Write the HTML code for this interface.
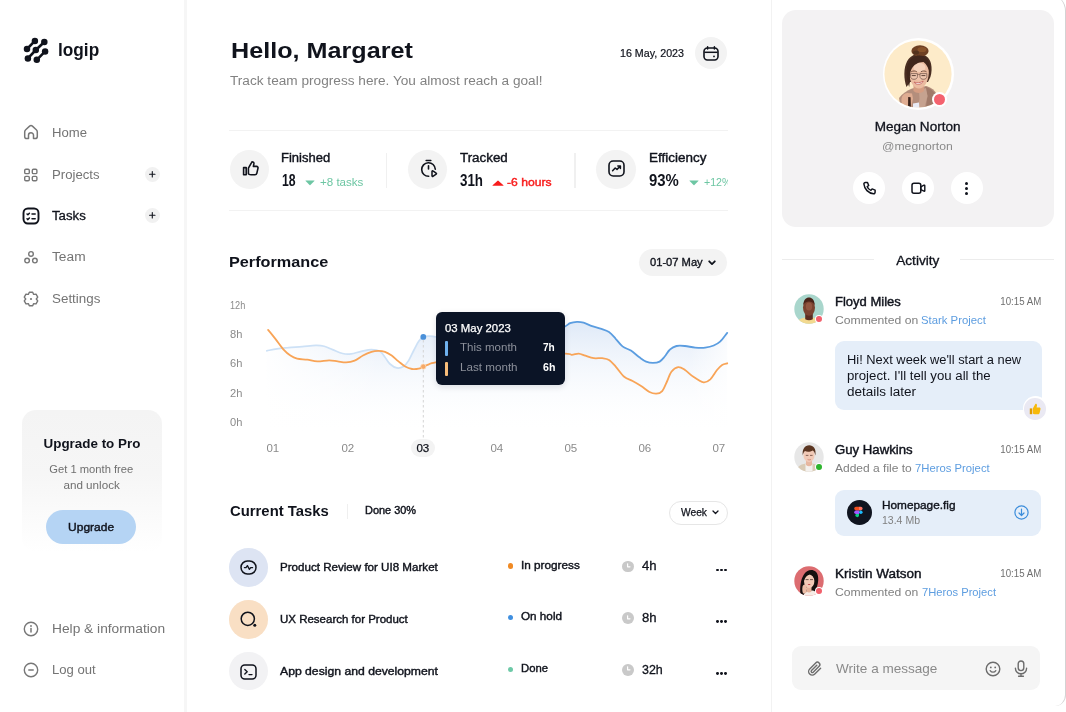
<!DOCTYPE html>
<html lang="en"><head><meta charset="utf-8"><title>logip – Dashboard</title>
<style>

html,body{margin:0;padding:0;background:#fff}
body{width:1066px;height:712px;position:relative;overflow:hidden;font-family:'Liberation Sans',sans-serif}
.t{position:absolute;white-space:pre;line-height:1;display:block;margin:0}
.a{position:absolute;display:block}
svg{position:absolute;overflow:visible}
.c{position:absolute;border-radius:50%}

</style></head>
<body>
<nav class="a" style="left:0;top:0;width:184px;height:712px;border-right:0"><div class="a" style="left:184.2px;top:0px;width:2.6px;height:712px;background:#f6f6f6"></div><svg style="left:0px;top:0px" width="60" height="70" viewBox="0 0 60 70" fill="none" ><line x1="34.9" y1="40.9" x2="27.0" y2="49.0" stroke="#10131c" stroke-width="2.6" stroke-linecap="round"/><line x1="44.3" y1="42.0" x2="35.8" y2="50.0" stroke="#10131c" stroke-width="2.6" stroke-linecap="round"/><line x1="35.8" y1="50.0" x2="27.9" y2="58.4" stroke="#10131c" stroke-width="2.6" stroke-linecap="round"/><line x1="45.1" y1="51.4" x2="36.8" y2="59.8" stroke="#10131c" stroke-width="2.6" stroke-linecap="round"/><circle cx="34.9" cy="40.9" r="3.25" fill="#10131c"/><circle cx="44.3" cy="42.0" r="3.25" fill="#10131c"/><circle cx="27.0" cy="49.0" r="3.25" fill="#10131c"/><circle cx="35.8" cy="50.0" r="3.25" fill="#10131c"/><circle cx="45.1" cy="51.4" r="3.25" fill="#10131c"/><circle cx="27.9" cy="58.4" r="3.25" fill="#10131c"/><circle cx="36.8" cy="59.8" r="3.25" fill="#10131c"/></svg><span class="t " style="left:58.00px;top:41px;font-size:18.8px;color:#10131c;transform:scaleX(0.9184);transform-origin:0 50%;font-weight:700;">logip</span><svg style="left:22.8px;top:124.4px" width="16" height="16" viewBox="0 0 16 16" fill="none" ><path d="M6.600 2.100Q8 .9 9.400 2.100L13.300 5.700Q14.300 6.700 14.300 8.100V12.400Q14.300 14.600 12.100 14.600H10.500V11.300a2.500 2.500 0 0 0-5 0V14.600H3.900Q1.700 14.600 1.700 12.400V8.100Q1.700 6.700 2.700 5.700Z" stroke="#777" stroke-width="1.500" stroke-linejoin="round"/></svg><span class="t " style="left:52.00px;top:127px;font-size:12px;color:#747474;transform:scaleX(1.0932);transform-origin:0 50%;">Home</span><svg style="left:23px;top:166.5px" width="16" height="16" viewBox="0 0 16 16" fill="none" ><rect x="1.7" y="2.2" width="4.600" height="4.400" rx="1.200" stroke="#777" stroke-width="1.400"/><rect x="1.7" y="9.4" width="4.600" height="4.400" rx="1.200" stroke="#777" stroke-width="1.400"/><rect x="9.3" y="2.2" width="4.600" height="4.400" rx="1.200" stroke="#777" stroke-width="1.400"/><rect x="9.3" y="9.4" width="4.600" height="4.400" rx="1.200" stroke="#777" stroke-width="1.400"/></svg><span class="t " style="left:52.00px;top:169px;font-size:12px;color:#747474;transform:scaleX(1.0955);transform-origin:0 50%;">Projects</span><svg style="left:22px;top:206.6px" width="18" height="18" viewBox="0 0 18 18" fill="none" ><rect x="1.500" y="1.500" width="15" height="15" rx="4.400" stroke="#10131c" stroke-width="1.900"/><path d="M5 7l.9.800 1.500-1.600M10 7h3.200M5 11.800l.9.800 1.500-1.600M10 11.800h3.200" stroke="#10131c" stroke-width="1.500" stroke-linecap="round" stroke-linejoin="round"/></svg><span class="t " style="left:52.00px;top:210px;font-size:12px;color:#10131c;transform:scaleX(1.1014);transform-origin:0 50%;-webkit-text-stroke:0.3px #10131c;">Tasks</span><svg style="left:23px;top:249.5px" width="16" height="16" viewBox="0 0 16 16" fill="none" ><circle cx="8" cy="3.9" r="2.3" stroke="#777" stroke-width="1.4"/><circle cx="4.1" cy="10.6" r="2.3" stroke="#777" stroke-width="1.4"/><circle cx="11.9" cy="10.6" r="2.3" stroke="#777" stroke-width="1.4"/></svg><span class="t " style="left:52.00px;top:251px;font-size:12px;color:#747474;transform:scaleX(1.1450);transform-origin:0 50%;">Team</span><svg style="left:23px;top:291px" width="16" height="16" viewBox="0 0 16 16" fill="none" ><path d="M6.31 1.21L9.69 1.21L10.65 3.41L13.04 3.14L14.73 6.07L13.30 8.00L14.73 9.93L13.04 12.86L10.65 12.59L9.69 14.79L6.31 14.79L5.35 12.59L2.96 12.86L1.27 9.93L2.70 8.00L1.27 6.07L2.96 3.14L5.35 3.41Z" stroke="#777" stroke-width="1.4" stroke-linejoin="round"/><circle cx="8" cy="8" r="1.1" fill="#777"/></svg><span class="t " style="left:52.00px;top:293px;font-size:12px;color:#747474;transform:scaleX(1.1163);transform-origin:0 50%;">Settings</span><div class="c" style="left:144.70px;top:166.60px;width:15.2px;height:15.2px;background:#f1f1f1;"></div><svg style="left:149px;top:170.89999999999998px" width="6.6" height="6.6" viewBox="0 0 6.6 6.6" fill="none" ><path d="M3.3 .6v5.4M.6 3.3h5.4" stroke="#10131c" stroke-width="1.1" stroke-linecap="round"/></svg><div class="c" style="left:144.70px;top:208.00px;width:15.2px;height:15.2px;background:#f1f1f1;"></div><svg style="left:149px;top:212.29999999999998px" width="6.6" height="6.6" viewBox="0 0 6.6 6.6" fill="none" ><path d="M3.3 .6v5.4M.6 3.3h5.4" stroke="#10131c" stroke-width="1.1" stroke-linecap="round"/></svg><section class="a" style="left:22px;top:410px;width:140px;height:142px;border-radius:14px;background:linear-gradient(180deg,#f4f4f4 0%,#f6f6f6 45%,#ffffff 100%)"></section><span class="t " style="left:44.55px;top:437px;font-size:13px;color:#10131c;transform:scaleX(1.0308);transform-origin:50% 50%;font-weight:700;">Upgrade to Pro</span><span class="t " style="left:50.03px;top:464px;font-size:11px;color:#6f6f6f;transform:scaleX(1.0176);transform-origin:50% 50%;">Get 1 month free</span><span class="t " style="left:64.79px;top:480px;font-size:11px;color:#6f6f6f;transform:scaleX(1.0598);transform-origin:50% 50%;">and unlock</span><div class="a" style="left:46.3px;top:510px;width:90.2px;height:34.4px;border-radius:18px;background:#b5d4f4"></div><span class="t " style="left:70.20px;top:522px;font-size:11px;color:#10131c;transform:scaleX(1.0900);transform-origin:50% 50%;-webkit-text-stroke:0.4px #10131c;">Upgrade</span><svg style="left:22.6px;top:620.8px" width="16" height="16" viewBox="0 0 16 16" fill="none" ><circle cx="8" cy="8" r="6.7" stroke="#777" stroke-width="1.4"/><path d="M8 7.4v3.6" stroke="#777" stroke-width="1.5" stroke-linecap="round"/><circle cx="8" cy="5" r=".9" fill="#777"/></svg><span class="t " style="left:52.00px;top:623px;font-size:12px;color:#747474;transform:scaleX(1.1457);transform-origin:0 50%;">Help &amp; information</span><svg style="left:22.6px;top:662px" width="16" height="16" viewBox="0 0 16 16" fill="none" ><circle cx="8" cy="8" r="6.7" stroke="#777" stroke-width="1.4"/><path d="M5.8 8h4.4" stroke="#777" stroke-width="1.5" stroke-linecap="round"/></svg><span class="t " style="left:52.00px;top:664px;font-size:12px;color:#747474;transform:scaleX(1.0912);transform-origin:0 50%;">Log out</span></nav><main class="a" style="left:185px;top:0;width:585px;height:712px"></main><span class="t " style="left:230.60px;top:39px;font-size:22.8px;color:#10131c;transform:scaleX(1.1039);transform-origin:0 50%;font-weight:700;">Hello, Margaret</span><span class="t " style="left:229.80px;top:75px;font-size:12px;color:#828282;transform:scaleX(1.1362);transform-origin:0 50%;">Track team progress here. You almost reach a goal!</span><span class="t " style="left:620.40px;top:48px;font-size:10.5px;color:#10131c;transform:scaleX(1.0181);transform-origin:0 50%;-webkit-text-stroke:0.2px #10131c;">16 May, 2023</span><div class="c" style="left:694.50px;top:37.40px;width:32px;height:32px;background:#f3f3f3;"></div><svg style="left:702.5px;top:46px" width="16" height="15" viewBox="0 0 16 15" fill="none" ><rect x="1" y="2" width="14" height="12" rx="3.4" stroke="#10131c" stroke-width="1.6"/><path d="M1.4 6.3h13.2" stroke="#10131c" stroke-width="1.5"/><path d="M4.6 .8v2.2M11.4 .8v2.2" stroke="#10131c" stroke-width="1.5" stroke-linecap="round"/><circle cx="11" cy="10.4" r=".9" fill="#10131c"/></svg><div class="a" style="left:228.5px;top:129.6px;width:499.5px;height:1.3px;background:#f2f2f2"></div><div class="a" style="left:228.5px;top:209.6px;width:499.5px;height:1.3px;background:#f2f2f2"></div><div class="c" style="left:229.70px;top:149.60px;width:39.2px;height:39.2px;background:#f3f3f3;"></div><svg style="left:241.5px;top:160px" width="17" height="17" viewBox="0 0 17 17" fill="none" ><path d="M1.6 7.6h2.6v7.2H1.6z" stroke="#10131c" stroke-width="1.6" stroke-linejoin="round"/><path d="M6.4 8.2l3-5.4c.3-.6 1-1 1.6-.7.7.3 1 .9.9 1.600L11.400 6.400h3.200c1 0 1.600.9 1.400 1.800l-1.200 5.200c-.2.800-.9 1.400-1.800 1.400H9.200c-1 0-2-.4-2.800-1Z" stroke="#10131c" stroke-width="1.6" stroke-linejoin="round"/></svg><span class="t " style="left:281.40px;top:152px;font-size:12px;color:#10131c;transform:scaleX(1.0847);transform-origin:0 50%;-webkit-text-stroke:0.38px #10131c;">Finished</span><span class="t " style="left:281.50px;top:173px;font-size:16px;color:#10131c;transform:scaleX(0.7642);transform-origin:0 50%;font-weight:700;">18</span><svg style="left:305.2px;top:180.3px" width="10" height="5.6" viewBox="0 0 10 5.6" fill="none" ><path d="M.8 .5h8.400q.6 0 .2.500L5.400 5.100q-.4.400-.8 0L.6 1q-.4-.5.200-.5Z" fill="#6dc6a3"/></svg><span class="t " style="left:320.00px;top:177px;font-size:10.5px;color:#6dc6a3;transform:scaleX(1.1013);transform-origin:0 50%;">+8 tasks</span><div class="a" style="left:385.8px;top:152.8px;width:1.2px;height:35px;background:#f0f0f0"></div><div class="c" style="left:408.00px;top:149.60px;width:39.2px;height:39.2px;background:#f3f3f3;"></div><svg style="left:419.5px;top:159px" width="18" height="19" viewBox="0 0 18 19" fill="none" ><path d="M6.2 1.500h4.600" stroke="#10131c" stroke-width="1.6" stroke-linecap="round"/><path d="M15.300 10.200A6.800 6.800 0 1 0 8.700 17.300" stroke="#10131c" stroke-width="1.6" stroke-linecap="round"/><path d="M8.500 6.800v3.200" stroke="#10131c" stroke-width="1.6" stroke-linecap="round"/><path d="M12 12.400v4.400c0 .5.500.8.900.5l3.300-2.200c.4-.2.400-.8 0-1l-3.300-2.200c-.4-.3-.9 0-.9.500Z" stroke="#10131c" stroke-width="1.500" stroke-linejoin="round"/></svg><span class="t " style="left:460.20px;top:152px;font-size:12px;color:#10131c;transform:scaleX(1.1141);transform-origin:0 50%;-webkit-text-stroke:0.38px #10131c;">Tracked</span><span class="t " style="left:460.20px;top:173px;font-size:16px;color:#10131c;transform:scaleX(0.8340);transform-origin:0 50%;font-weight:700;">31h</span><svg style="left:491.8px;top:180px" width="12" height="6" viewBox="0 0 12 6" fill="none" ><path d="M.8 5.700h10.400q.6 0 .2-.5L6.400.7q-.4-.4-.8 0L.6 5.200q-.4.500.2.500Z" fill="#f81c1c"/></svg><span class="t " style="left:507.30px;top:177px;font-size:10.5px;color:#f81c1c;transform:scaleX(1.1549);transform-origin:0 50%;-webkit-text-stroke:0.4px #f81c1c;">-6 hours</span><div class="a" style="left:574.4px;top:152.8px;width:1.2px;height:35px;background:#f0f0f0"></div><div class="c" style="left:596.40px;top:149.60px;width:39.2px;height:39.2px;background:#f3f3f3;"></div><svg style="left:607.5px;top:160px" width="17" height="17" viewBox="0 0 17 17" fill="none" ><rect x="1" y="1" width="15" height="15" rx="4.200" stroke="#10131c" stroke-width="1.600"/><path d="M4.600 10.800l2.600-2.800 1.800 1.400 3.200-3.200M9.800 6h2.600v2.600" stroke="#10131c" stroke-width="1.500" stroke-linecap="round" stroke-linejoin="round"/></svg><span class="t " style="left:648.50px;top:152px;font-size:12px;color:#10131c;transform:scaleX(1.1224);transform-origin:0 50%;-webkit-text-stroke:0.38px #10131c;">Efficiency</span><span class="t " style="left:648.80px;top:173px;font-size:16px;color:#10131c;transform:scaleX(0.9303);transform-origin:0 50%;font-weight:700;">93%</span><svg style="left:688.6px;top:180.3px" width="10" height="5.6" viewBox="0 0 10 5.6" fill="none" ><path d="M.8 .5h8.400q.6 0 .2.500L5.400 5.100q-.4.400-.8 0L.6 1q-.4-.5.200-.5Z" fill="#6dc6a3"/></svg><div class="a" style="left:700px;top:170px;width:28px;height:24px;overflow:hidden"><span class="t " style="left:4.20px;top:7px;font-size:10.5px;color:#6dc6a3;transform:scaleX(1.0127);transform-origin:0 50%;">+12%</span></div><section><span class="t " style="left:229.40px;top:254px;font-size:15.5px;color:#10131c;transform:scaleX(1.0468);transform-origin:0 50%;font-weight:700;">Performance</span><div class="a" style="left:638.8px;top:249.3px;width:88.7px;height:26.4px;border-radius:14px;background:#f3f3f3"></div><span class="t " style="left:650.10px;top:257px;font-size:11px;color:#10131c;transform:scaleX(1.0138);transform-origin:0 50%;-webkit-text-stroke:0.35px #10131c;">01-07 May</span><svg style="left:708.4px;top:259.7px" width="8" height="6" viewBox="0 0 8 6" fill="none" ><path d="M1.200 1.300l2.800 2.800 2.800-2.800" stroke="#10131c" stroke-width="1.800" stroke-linecap="round" stroke-linejoin="round"/></svg><span class="t " style="left:229.80px;top:300px;font-size:10.5px;color:#8b8b8b;transform:scaleX(0.8727);transform-origin:0 50%;">12h</span><span class="t " style="left:229.80px;top:329px;font-size:10.5px;color:#8b8b8b;transform:scaleX(1.0610);transform-origin:0 50%;">8h</span><span class="t " style="left:229.80px;top:358px;font-size:10.5px;color:#8b8b8b;transform:scaleX(1.0610);transform-origin:0 50%;">6h</span><span class="t " style="left:229.80px;top:388px;font-size:10.5px;color:#8b8b8b;transform:scaleX(1.0610);transform-origin:0 50%;">2h</span><span class="t " style="left:229.80px;top:417px;font-size:10.5px;color:#8b8b8b;transform:scaleX(1.0610);transform-origin:0 50%;">0h</span><span class="t " style="left:266.76px;top:443px;font-size:10.5px;color:#8b8b8b;transform:scaleX(1.1000);transform-origin:50% 50%;">01</span><span class="t " style="left:342.06px;top:443px;font-size:10.5px;color:#8b8b8b;transform:scaleX(1.1000);transform-origin:50% 50%;">02</span><span class="t " style="left:491.36px;top:443px;font-size:10.5px;color:#8b8b8b;transform:scaleX(1.1000);transform-origin:50% 50%;">04</span><span class="t " style="left:565.46px;top:443px;font-size:10.5px;color:#8b8b8b;transform:scaleX(1.1000);transform-origin:50% 50%;">05</span><span class="t " style="left:639.26px;top:443px;font-size:10.5px;color:#8b8b8b;transform:scaleX(1.1000);transform-origin:50% 50%;">06</span><span class="t " style="left:713.26px;top:443px;font-size:10.5px;color:#8b8b8b;transform:scaleX(1.1000);transform-origin:50% 50%;">07</span><div class="a" style="left:411.3px;top:439.2px;width:24px;height:18.2px;border-radius:9px;background:#f3f3f3"></div><span class="t " style="left:417.46px;top:443px;font-size:10.5px;color:#10131c;transform:scaleX(1.1000);transform-origin:50% 50%;-webkit-text-stroke:0.25px #10131c;">03</span><svg style="left:0px;top:0px" width="1066" height="712" viewBox="0 0 1066 712" fill="none" ><defs><linearGradient id="ga" x1="0" y1="318" x2="0" y2="434" gradientUnits="userSpaceOnUse"><stop offset="0" stop-color="#dde8f7"/><stop offset="1" stop-color="#ffffff" stop-opacity="0"/></linearGradient><linearGradient id="gh" x1="266" y1="0" x2="380" y2="0" gradientUnits="userSpaceOnUse"><stop offset="0" stop-color="#fff" stop-opacity=".95"/><stop offset="1" stop-color="#fff" stop-opacity="0"/></linearGradient><linearGradient id="gr" x1="690" y1="0" x2="728" y2="0" gradientUnits="userSpaceOnUse"><stop offset="0" stop-color="#fff" stop-opacity="0"/><stop offset="1" stop-color="#fff" stop-opacity=".8"/></linearGradient></defs><path d="M266.8 350.8C268.5 350.5 273.2 349.3 276.9 348.8C280.5 348.3 284.5 348.0 288.7 347.6C292.9 347.2 297.7 347.1 302.2 346.7C306.7 346.3 312.0 345.5 315.7 345.4C319.4 345.3 321.4 345.5 324.2 346.2C327.0 346.9 329.5 348.4 332.6 349.6C335.7 350.8 339.6 352.8 342.7 353.5C345.8 354.2 348.1 354.2 351.2 353.8C354.3 353.4 357.9 352.0 361.3 351.3C364.7 350.6 368.4 349.6 371.5 349.6C374.6 349.6 377.6 350.0 379.9 351.3C382.1 352.6 383.3 355.1 385.0 357.2C386.7 359.3 388.0 362.2 390.0 364.0C392.0 365.8 394.6 367.5 396.8 367.9C399.1 368.3 401.5 367.7 403.5 366.5C405.5 365.3 406.9 363.3 408.6 360.6C410.3 357.9 412.0 353.7 413.7 350.5C415.4 347.3 417.1 343.4 418.7 341.2C420.3 338.9 421.6 337.9 423.3 337.0C425.0 336.1 427.1 336.2 428.9 336.1C430.7 336.0 432.0 336.3 433.9 336.6C435.8 336.9 434.0 337.4 440.0 338.0C446.0 338.6 456.7 340.0 470.0 340.0C483.3 340.0 506.7 339.3 520.0 338.0C533.3 336.7 542.6 333.9 550.0 332.0C557.4 330.1 560.9 328.4 564.2 326.9C567.6 325.4 568.0 324.0 570.1 323.2C572.2 322.4 574.6 322.0 576.9 321.9C579.1 321.8 581.1 322.0 583.6 322.7C586.1 323.4 589.3 325.1 592.1 326.1C594.9 327.1 597.7 327.6 600.5 328.6C603.3 329.6 606.5 330.3 609.0 332.0C611.5 333.7 613.5 336.4 615.7 338.8C618.0 341.2 620.0 344.4 622.5 346.4C625.0 348.4 628.1 348.8 630.9 350.6C633.7 352.4 636.9 355.5 639.4 357.3C641.9 359.1 643.9 360.7 646.1 361.6C648.4 362.5 650.6 362.9 652.9 362.9C655.1 362.9 657.6 362.7 659.6 361.6C661.6 360.5 663.0 358.5 664.7 356.5C666.4 354.5 667.8 351.4 669.8 349.7C671.8 347.9 674.0 346.6 676.5 346.0C679.0 345.4 681.9 345.7 685.0 346.0C688.1 346.3 691.7 347.3 695.1 347.6C698.5 347.9 702.1 348.1 705.2 347.7C708.3 347.3 711.2 346.6 713.7 345.5C716.2 344.4 718.6 342.9 720.4 341.3C722.2 339.8 723.5 337.6 724.6 336.2C725.7 334.8 726.8 333.4 727.2 332.9L727.2 436L266.8 436Z" fill="url(#ga)"/><rect x="262" y="315" width="120" height="120" fill="url(#gh)"/><rect x="690" y="315" width="40" height="120" fill="url(#gr)"/><path d="M266.8 350.8C268.5 350.5 273.2 349.3 276.9 348.8C280.5 348.3 284.5 348.0 288.7 347.6C292.9 347.2 297.7 347.1 302.2 346.7C306.7 346.3 312.0 345.5 315.7 345.4C319.4 345.3 321.4 345.5 324.2 346.2C327.0 346.9 329.5 348.4 332.6 349.6C335.7 350.8 339.6 352.8 342.7 353.5C345.8 354.2 348.1 354.2 351.2 353.8C354.3 353.4 357.9 352.0 361.3 351.3C364.7 350.6 368.4 349.6 371.5 349.6C374.6 349.6 377.6 350.0 379.9 351.3C382.1 352.6 383.3 355.1 385.0 357.2C386.7 359.3 388.0 362.2 390.0 364.0C392.0 365.8 394.6 367.5 396.8 367.9C399.1 368.3 401.5 367.7 403.5 366.5C405.5 365.3 406.9 363.3 408.6 360.6C410.3 357.9 412.0 353.7 413.7 350.5C415.4 347.3 417.1 343.4 418.7 341.2C420.3 338.9 421.6 337.9 423.3 337.0C425.0 336.1 427.1 336.2 428.9 336.1C430.7 336.0 432.0 336.3 433.9 336.6C435.8 336.9 439.0 337.8 440.0 338.0" stroke="#cde1f6" stroke-width="1.700" stroke-linecap="round"/><path d="M440.0 338.0C445.0 338.3 456.7 340.0 470.0 340.0C483.3 340.0 506.7 339.3 520.0 338.0C533.3 336.7 542.6 333.9 550.0 332.0C557.4 330.1 560.9 328.4 564.2 326.9C567.6 325.4 568.0 324.0 570.1 323.2C572.2 322.4 574.6 322.0 576.9 321.9C579.1 321.8 581.1 322.0 583.6 322.7C586.1 323.4 589.3 325.1 592.1 326.1C594.9 327.1 597.7 327.6 600.5 328.6C603.3 329.6 606.5 330.3 609.0 332.0C611.5 333.7 613.5 336.4 615.7 338.8C618.0 341.2 620.0 344.4 622.5 346.4C625.0 348.4 628.1 348.8 630.9 350.6C633.7 352.4 636.9 355.5 639.4 357.3C641.9 359.1 643.9 360.7 646.1 361.6C648.4 362.5 650.6 362.9 652.9 362.9C655.1 362.9 657.6 362.7 659.6 361.6C661.6 360.5 663.0 358.5 664.7 356.5C666.4 354.5 667.8 351.4 669.8 349.7C671.8 347.9 674.0 346.6 676.5 346.0C679.0 345.4 681.9 345.7 685.0 346.0C688.1 346.3 691.7 347.3 695.1 347.6C698.5 347.9 702.1 348.1 705.2 347.7C708.3 347.3 711.2 346.6 713.7 345.5C716.2 344.4 718.6 342.9 720.4 341.3C722.2 339.8 723.5 337.6 724.6 336.2C725.7 334.8 726.8 333.4 727.2 332.9" stroke="#5b9de0" stroke-width="1.800" stroke-linecap="round"/><path d="M268.1 329.9C269.3 331.3 272.6 335.3 275.2 338.6C277.8 341.9 281.1 346.8 283.6 349.6C286.1 352.4 288.1 354.0 290.4 355.5C292.6 357.0 294.3 357.9 297.1 358.6C299.9 359.3 303.9 359.2 307.3 359.7C310.7 360.2 313.8 361.3 317.4 361.4C321.0 361.5 325.8 360.3 329.2 360.3C332.6 360.3 334.9 361.1 337.7 361.4C340.5 361.7 343.3 362.4 346.1 362.3C348.9 362.2 351.8 361.7 354.6 360.6C357.4 359.5 360.2 357.0 363.0 355.5C365.8 354.0 369.0 352.6 371.5 351.8C374.0 351.0 375.9 350.8 378.2 350.8C380.4 350.8 382.8 351.0 385.0 351.8C387.2 352.6 389.4 353.9 391.7 355.5C393.9 357.1 396.2 359.6 398.5 361.4C400.8 363.2 402.9 365.2 405.2 366.5C407.4 367.8 409.8 368.6 412.0 369.0C414.2 369.4 416.8 369.1 418.7 368.7C420.6 368.3 421.6 367.2 423.3 366.5C425.0 365.8 426.8 365.0 428.9 364.3C430.9 363.6 428.8 363.5 435.6 362.3C442.5 361.1 455.9 358.6 470.0 357.0C484.1 355.4 504.1 353.6 520.0 353.0C535.9 352.4 556.5 353.3 565.1 353.6C573.7 353.9 569.5 354.8 571.8 354.8C574.0 354.8 576.4 353.5 578.6 353.6C580.9 353.8 582.8 354.9 585.3 355.7C587.8 356.5 591.0 357.8 593.8 358.2C596.6 358.6 599.7 357.9 602.2 358.2C604.7 358.5 606.8 358.5 609.0 359.9C611.2 361.3 613.2 363.8 615.7 366.6C618.2 369.4 621.4 374.4 624.2 376.8C627.0 379.2 629.8 379.5 632.6 381.0C635.4 382.5 638.3 384.2 641.1 386.0C643.9 387.8 647.0 390.7 649.5 392.0C652.0 393.3 654.2 393.8 656.3 393.7C658.4 393.6 660.4 393.2 662.2 391.1C664.0 389.0 665.7 384.2 667.2 381.0C668.7 377.8 669.6 374.0 671.4 371.7C673.2 369.4 675.9 367.4 678.2 367.1C680.5 366.8 682.5 368.4 685.0 370.0C687.5 371.6 690.3 374.8 693.4 376.8C696.5 378.9 700.7 381.9 703.5 382.3C706.3 382.7 708.0 381.4 710.3 379.3C712.5 377.2 715.0 372.4 717.0 370.0C719.0 367.6 720.4 366.0 722.1 364.9C723.8 363.8 726.4 363.6 727.2 363.3" stroke="#f8a457" stroke-width="1.800" stroke-linecap="round"/><path d="M423.3 340V439" stroke="#d4d4d4" stroke-width="1" stroke-dasharray="2.500 2.500"/><circle cx="423.3" cy="336.9" r="2.900" fill="#4a90d9"/><circle cx="423.3" cy="366.600" r="2.600" fill="#f6a967" stroke="#fbd9b8" stroke-width=".8"/></svg><div class="a" style="left:436px;top:311.8px;width:128.600px;height:73.200px;border-radius:6px;background:#0b1426;box-shadow:0 2px 6px rgba(10,20,40,.12)"></div><span class="t " style="left:444.80px;top:323px;font-size:10.5px;color:#fff;transform:scaleX(1.0837);transform-origin:0 50%;-webkit-text-stroke:0.25px #fff;">03 May 2023</span><div class="a" style="left:445.4px;top:341.4px;width:2.2px;height:14.4px;background:#6fb1ee;border-radius:1px"></div><span class="t " style="left:460.00px;top:342px;font-size:10.5px;color:#8d919b;transform:scaleX(1.0975);transform-origin:0 50%;">This month</span><span class="t " style="left:543.20px;top:342px;font-size:10.5px;color:#fff;transform:scaleX(0.9620);transform-origin:0 50%;font-weight:700;">7h</span><div class="a" style="left:445.4px;top:361.6px;width:2.2px;height:14.4px;background:#f8bd7a;border-radius:1px"></div><span class="t " style="left:460.00px;top:362px;font-size:10.5px;color:#8d919b;transform:scaleX(1.1087);transform-origin:0 50%;">Last month</span><span class="t " style="left:542.60px;top:362px;font-size:10.5px;color:#fff;transform:scaleX(1.0110);transform-origin:0 50%;font-weight:700;">6h</span></section><section><span class="t " style="left:229.60px;top:503px;font-size:15.5px;color:#10131c;transform:scaleX(0.9584);transform-origin:0 50%;font-weight:700;">Current Tasks</span><div class="a" style="left:346.6px;top:504.4px;width:1.2px;height:15px;background:#efefef"></div><span class="t " style="left:365.00px;top:505px;font-size:10.5px;color:#10131c;transform:scaleX(1.0419);transform-origin:0 50%;-webkit-text-stroke:0.4px #10131c;">Done 30%</span><div class="a" style="left:668.6px;top:501.2px;width:57.4px;height:21.4px;border-radius:12px;border:1px solid #e6e6e6;background:#fff"></div><span class="t " style="left:680.60px;top:507px;font-size:10.5px;color:#10131c;transform:scaleX(0.9754);transform-origin:0 50%;-webkit-text-stroke:0.25px #10131c;">Week</span><svg style="left:712.4px;top:509.6px" width="7" height="5" viewBox="0 0 7 5" fill="none" ><path d="M1 1l2.500 2.500L6 1" stroke="#10131c" stroke-width="1.300" stroke-linecap="round" stroke-linejoin="round"/></svg><div class="c" style="left:229.30px;top:548.30px;width:38.6px;height:38.6px;background:#dde4f3;"></div><svg style="left:240.2px;top:560.2px" width="17" height="15" viewBox="0 0 17 15" fill="none" ><rect x="1" y="1" width="15" height="13" rx="6.400" stroke="#10131c" stroke-width="1.500"/><path d="M4.400 7.600h1.600l1.400-2 2 3.800 1.300-1.800h1.900" stroke="#10131c" stroke-width="1.300" stroke-linecap="round" stroke-linejoin="round"/></svg><span class="t " style="left:279.60px;top:562px;font-size:10.5px;color:#10131c;transform:scaleX(1.1037);transform-origin:0 50%;-webkit-text-stroke:0.38px #10131c;">Product Review for UI8 Market</span><div class="c" style="left:507.80px;top:563.10px;width:5.6px;height:5.6px;background:#f08a24;"></div><span class="t " style="left:521.10px;top:560px;font-size:10.5px;color:#10131c;transform:scaleX(1.1193);transform-origin:0 50%;-webkit-text-stroke:0.38px #10131c;">In progress</span><div class="c" style="left:621.80px;top:560.50px;width:11.8px;height:11.8px;background:#c9c9c9;"></div><svg style="left:622.1px;top:560.8000000000001px" width="11.2" height="11.2" viewBox="0 0 11.2 11.2" fill="none" ><path d="M5.600 2.800v3h2.400" stroke="#fff" stroke-width="1.200" stroke-linecap="round" stroke-linejoin="round"/></svg><span class="t " style="left:641.60px;top:559px;font-size:13px;color:#10131c;transform:scaleX(1.0091);transform-origin:0 50%;-webkit-text-stroke:0.3px #10131c;">4h</span><div class="c" style="left:715.75px;top:568.55px;width:2.9px;height:2.9px;background:#10131c;"></div><div class="c" style="left:719.95px;top:568.55px;width:2.9px;height:2.9px;background:#10131c;"></div><div class="c" style="left:724.15px;top:568.55px;width:2.9px;height:2.9px;background:#10131c;"></div><div class="c" style="left:229.30px;top:600.00px;width:38.6px;height:38.6px;background:#f9dfc4;"></div><svg style="left:240px;top:611.3px" width="17" height="17" viewBox="0 0 17 17" fill="none" ><circle cx="7.800" cy="7.800" r="6.600" stroke="#10131c" stroke-width="1.500"/><circle cx="14.800" cy="14.200" r="1.500" fill="#10131c"/></svg><span class="t " style="left:279.60px;top:614px;font-size:10.5px;color:#10131c;transform:scaleX(1.0949);transform-origin:0 50%;-webkit-text-stroke:0.38px #10131c;">UX Research for Product</span><div class="c" style="left:507.80px;top:614.80px;width:5.6px;height:5.6px;background:#3f8fe0;"></div><span class="t " style="left:521.10px;top:611px;font-size:10.5px;color:#10131c;transform:scaleX(1.1147);transform-origin:0 50%;-webkit-text-stroke:0.38px #10131c;">On hold</span><div class="c" style="left:621.80px;top:612.20px;width:11.8px;height:11.8px;background:#c9c9c9;"></div><svg style="left:622.1px;top:612.5px" width="11.2" height="11.2" viewBox="0 0 11.2 11.2" fill="none" ><path d="M5.600 2.800v3h2.400" stroke="#fff" stroke-width="1.200" stroke-linecap="round" stroke-linejoin="round"/></svg><span class="t " style="left:641.60px;top:611px;font-size:13px;color:#10131c;transform:scaleX(1.0091);transform-origin:0 50%;-webkit-text-stroke:0.3px #10131c;">8h</span><div class="c" style="left:715.75px;top:620.25px;width:2.9px;height:2.9px;background:#10131c;"></div><div class="c" style="left:719.95px;top:620.25px;width:2.9px;height:2.9px;background:#10131c;"></div><div class="c" style="left:724.15px;top:620.25px;width:2.9px;height:2.9px;background:#10131c;"></div><div class="c" style="left:229.30px;top:651.90px;width:38.6px;height:38.6px;background:#f2f2f4;"></div><svg style="left:240.2px;top:663.6px" width="17" height="16" viewBox="0 0 17 16" fill="none" ><rect x="1" y="1" width="15" height="14" rx="3.800" stroke="#10131c" stroke-width="1.500"/><path d="M4.800 5.600l2.400 2.200-2.400 2.200M9 10.600h3" stroke="#10131c" stroke-width="1.400" stroke-linecap="round" stroke-linejoin="round"/></svg><span class="t " style="left:279.60px;top:666px;font-size:10.5px;color:#10131c;transform:scaleX(1.1615);transform-origin:0 50%;-webkit-text-stroke:0.38px #10131c;">App design and development</span><div class="c" style="left:507.80px;top:666.70px;width:5.6px;height:5.6px;background:#6dc9a7;"></div><span class="t " style="left:521.10px;top:663px;font-size:10.5px;color:#10131c;transform:scaleX(1.0753);transform-origin:0 50%;-webkit-text-stroke:0.38px #10131c;">Done</span><div class="c" style="left:621.80px;top:664.10px;width:11.8px;height:11.8px;background:#c9c9c9;"></div><svg style="left:622.1px;top:664.4000000000001px" width="11.2" height="11.2" viewBox="0 0 11.2 11.2" fill="none" ><path d="M5.600 2.800v3h2.400" stroke="#fff" stroke-width="1.200" stroke-linecap="round" stroke-linejoin="round"/></svg><span class="t " style="left:641.60px;top:663px;font-size:13px;color:#10131c;transform:scaleX(0.9584);transform-origin:0 50%;-webkit-text-stroke:0.3px #10131c;">32h</span><div class="c" style="left:715.75px;top:672.15px;width:2.9px;height:2.9px;background:#10131c;"></div><div class="c" style="left:719.95px;top:672.15px;width:2.9px;height:2.9px;background:#10131c;"></div><div class="c" style="left:724.15px;top:672.15px;width:2.9px;height:2.9px;background:#10131c;"></div></section><aside><div class="a" style="left:770.8px;top:0px;width:1.6px;height:712px;background:#f2f2f2"></div><div class="a" style="left:1030px;top:-6px;width:36px;height:712px;border-right:1.500px solid #d3d2d3;border-radius:0 17px 11px 0;box-sizing:border-box"></div><div class="a" style="left:782px;top:10px;width:272.4px;height:217px;border-radius:14px;background:#f3f2f3"></div><div class="c" style="left:882.50px;top:38.30px;width:71.4px;height:71.4px;background:#fff;"></div><svg style="left:882.2px;top:38px" width="72" height="72" viewBox="0 0 72 72" fill="none" ><defs><clipPath id="clm"><circle cx="36" cy="36" r="33.600"/></clipPath><filter id="bl" x="-10%" y="-10%" width="120%" height="120%"><feGaussianBlur stdDeviation=".45"/></filter></defs><g clip-path="url(#clm)"><rect width="72" height="72" fill="#fdebc9"/><g filter="url(#bl)"><path d="M24.500 49c-2.800-8-3-19 .5-25.500 2.600-5 7-7.500 12-7.500 6 0 10.500 3.500 12 9.500 1 4.500.8 9-.6 13.500l-2.400 5H28Z" fill="#4a2e22"/><ellipse cx="38" cy="13" rx="8.600" ry="5.800" fill="#6e3f24"/><ellipse cx="40" cy="11.500" rx="4.500" ry="2.600" fill="#91592f" opacity=".75"/><ellipse cx="34" cy="14.500" rx="3" ry="2" fill="#3f261c" opacity=".6"/><path d="M17 60c3-4 8-7.500 13-9.500l14.500-2.500c5 1.500 8.500 4.500 10.500 8.500l1 15.500H19Z" fill="#b48e7c"/><path d="M43 48.500c5 1.500 9 4.500 11 8.500l.5 15h-11l2-14Z" fill="#a07a69"/><path d="M37 53l7-3 1.500 8-3.500 14h-7l2.500-11Z" fill="#c6a28f"/><path d="M31 65.500l6-1 .5 8h-6.500Z" fill="#e9ebf5"/><path d="M31.500 44h10.500v9c-2.500 2.500-8 2.500-10.500 0Z" fill="#d59d82"/><path d="M27 35c-.4-8 3.800-13.500 10-13.500s10.200 5.500 9.800 13.500c-.4 8-4.200 15.500-9.800 15.500S27.400 43 27 35Z" fill="#ebbca1"/><ellipse cx="37.500" cy="29.500" rx="6" ry="4.500" fill="#f7d6c0" opacity=".85"/><ellipse cx="37" cy="40" rx="3" ry="2.500" fill="#f2c8b0" opacity=".7"/><path d="M25.200 40c-1.600-9 .6-19.500 8.800-22 7.600-2 13.400 2.500 14 11.500l-.5 5c-1-4.500-2.800-8-6-10.500-5.500.2-9.500 2.500-12 7-1.400 2.600-1.800 6.500-1.500 10.500l-.8 7.500c-1.200-2.800-1.600-6-2-9Z" fill="#3f261c"/><path d="M29.500 33.600c1.600-.9 3.600-.9 5 0M39.200 33.600c1.600-.9 3.600-.9 5 0" stroke="#5a3a2c" stroke-width=".8" stroke-linecap="round"/><path d="M28.600 35.600h6.800v3c0 1.600-1.400 2.700-3.400 2.700s-3.400-1.100-3.400-2.700Zm9.400 0h6.800v3c0 1.600-1.400 2.700-3.400 2.700s-3.400-1.100-3.400-2.700Z" stroke="#7a5c50" stroke-width=".8" fill="#f3d9c9" fill-opacity=".35"/><path d="M35.400 36.400h2.600" stroke="#7a5c50" stroke-width=".7"/><path d="M30.200 37.600h3.200M39.800 37.600h3.200" stroke="#4e342a" stroke-width=".9" stroke-linecap="round"/><path d="M32 44c2.400 1.200 6.800 1 9.200-1-1 3.800-7.600 4.600-9.200 1Z" fill="#fff" stroke="#c4605a" stroke-width=".8"/><path d="M19.500 63c-.5-4.500 2-7.500 6-8l4.500.5 1 5-2.500 11.500h-8Z" fill="#e0ad92"/><path d="M26.200 59l2.400.2.400 13h-3Z" fill="#3a221a"/></g></g></svg><div class="c" style="left:932.30px;top:91.80px;width:14.8px;height:14.8px;background:#fff;"></div><div class="c" style="left:934.00px;top:93.50px;width:11.4px;height:11.4px;background:#f4626e;"></div><span class="t " style="left:878.49px;top:121px;font-size:12.5px;color:#10131c;transform:scaleX(1.0831);transform-origin:50% 50%;-webkit-text-stroke:0.3px #10131c;">Megan Norton</span><span class="t " style="left:887.27px;top:141px;font-size:10.5px;color:#8a8a8a;transform:scaleX(1.1633);transform-origin:50% 50%;">@megnorton</span><div class="c" style="left:853.30px;top:172.20px;width:32px;height:32px;background:#fff;"></div><div class="c" style="left:902.00px;top:172.20px;width:32px;height:32px;background:#fff;"></div><div class="c" style="left:950.80px;top:172.20px;width:32px;height:32px;background:#fff;"></div><svg style="left:861.8px;top:180.7px" width="15" height="15" viewBox="0 0 15 15" fill="none" ><path d="M3.300 1.500h2.200l1.200 3-1.500 1.200c.7 1.700 2 3 3.700 3.700l1.200-1.500 3 1.200v2.200c0 .8-.7 1.500-1.500 1.400C6.400 12.200 2.400 8.200 1.900 3c-.1-.8.600-1.500 1.400-1.500Z" stroke="#10131c" stroke-width="1.500" stroke-linejoin="round"/></svg><svg style="left:910.6px;top:182px" width="15" height="12.4" viewBox="0 0 15 12.4" fill="none" ><rect x="1" y="1.200" width="8.800" height="10" rx="2" stroke="#10131c" stroke-width="1.500"/><path d="M9.800 4.800l3.200-1.600c.4-.2.800 0 .8.500v5c0 .5-.4.700-.8.500L9.800 7.600Z" stroke="#10131c" stroke-width="1.400" stroke-linejoin="round"/></svg><div class="c" style="left:965.30px;top:181.50px;width:3.0px;height:3.0px;background:#10131c;"></div><div class="c" style="left:965.30px;top:186.70px;width:3.0px;height:3.0px;background:#10131c;"></div><div class="c" style="left:965.30px;top:191.90px;width:3.0px;height:3.0px;background:#10131c;"></div><div class="a" style="left:782px;top:259.2px;width:91.5px;height:1.2px;background:#ececec"></div><div class="a" style="left:959.8px;top:259.2px;width:94.2px;height:1.2px;background:#ececec"></div><span class="t " style="left:898.10px;top:255px;font-size:12.5px;color:#10131c;transform:scaleX(1.0911);transform-origin:50% 50%;-webkit-text-stroke:0.3px #10131c;">Activity</span><svg style="left:793.5px;top:293.8px" width="30" height="30" viewBox="0 0 30 30" fill="none" ><defs><clipPath id="clfloyd"><circle cx="15" cy="15" r="14.7"/></clipPath></defs><g clip-path="url(#clfloyd)"><rect width="30" height="30" fill="#a9d6cc"/><path d="M3 30c0-5 5-6.500 12-6.500s12 1.500 12 6.500Z" fill="#f3d98f"/><path d="M11.200 20h7.600v5.200c-2.400 1.400-5.200 1.400-7.600 0Z" fill="#5b2d20"/><ellipse cx="15" cy="13.600" rx="6" ry="8.200" fill="#7a4330"/><ellipse cx="15" cy="12.500" rx="3.200" ry="4" fill="#9c5e48" opacity=".7"/><path d="M9.200 11c.3-5 3-7.400 5.800-7.400s5.500 2.400 5.800 7.400c-1.800-2.600-3.600-3.400-5.800-3.400s-4 .8-5.800 3.400Z" fill="#4a241a"/></g></svg><div class="c" style="left:814.60px;top:314.70px;width:8.6px;height:8.6px;background:#fff;"></div><div class="c" style="left:816.00px;top:316.10px;width:5.8px;height:5.8px;background:#f2606c;"></div><span class="t " style="left:835.30px;top:295px;font-size:13px;color:#10131c;transform:scaleX(1.0008);transform-origin:0 50%;-webkit-text-stroke:0.42px #10131c;">Floyd Miles</span><span class="t " style="left:998.63px;top:297px;font-size:10px;color:#6f6f6f;transform:scaleX(0.9701);transform-origin:100% 50%;">10:15 AM</span><span class="t " style="left:834.60px;top:315px;font-size:10.5px;color:#808080;transform:scaleX(1.1588);transform-origin:0 50%;">Commented on</span><span class="t " style="left:920.90px;top:315px;font-size:10.5px;color:#5d9de0;transform:scaleX(1.0797);transform-origin:0 50%;">Stark Project</span><div class="a" style="left:835.3px;top:341.4px;width:206.8px;height:68.8px;border-radius:9px;background:#e5eef9"></div><span class="t " style="left:847.20px;top:354px;font-size:12.5px;color:#10131c;transform:scaleX(1.0294);transform-origin:0 50%;">Hi! Next week we&#39;ll start a new</span><span class="t " style="left:847.20px;top:370px;font-size:12.5px;color:#10131c;transform:scaleX(1.0575);transform-origin:0 50%;">project. I&#39;ll tell you all the</span><span class="t " style="left:847.20px;top:386px;font-size:12.5px;color:#10131c;transform:scaleX(1.0807);transform-origin:0 50%;">details later</span><div class="c" style="left:1022.60px;top:396.40px;width:25.0px;height:25.0px;background:#fff;"></div><div class="c" style="left:1024.30px;top:398.10px;width:21.6px;height:21.6px;background:#eae9f3;"></div><svg style="left:1029.3px;top:402.9px" width="12" height="12" viewBox="0 0 12 12" fill="none" ><path d="M.8 5.400h2.400v5.800H.8z" fill="#e09a00"/><path d="M3.800 5.600l2.400-4.400c.3-.5.900-.6 1.300-.3.500.4.600.9.500 1.500L7.600 4.600h2.800c.8 0 1.300.7 1.100 1.500l-.9 3.800c-.2.800-.8 1.300-1.600 1.300H5.600c-.7 0-1.300-.2-1.800-.6Z" fill="#f7b90a"/></svg><svg style="left:793.5px;top:442px" width="30" height="30" viewBox="0 0 30 30" fill="none" ><defs><clipPath id="clguy"><circle cx="15" cy="15" r="14.7"/></clipPath></defs><g clip-path="url(#clguy)"><rect width="30" height="30" fill="#e7e7e7"/><path d="M2 30c1-6 5-8.500 13-8.500s12 2.500 13 8.500Z" fill="#d9cbb6"/><path d="M11.500 22h7v8h-7Z" fill="#f4f1ee"/><path d="M12 17.500h6v5.500c-2 1.600-4 1.600-6 0Z" fill="#e7b7a0"/><ellipse cx="15" cy="13" rx="5.600" ry="7.200" fill="#f1c9b6"/><path d="M8.800 13.500c-.9-6.500 2.200-10.300 6.400-10.300s7.200 3.400 6.200 10.300c-.6-2.600-1.400-4.200-2.600-5-2.400 1.400-5.800 1.600-7.800.6-1.100 1-1.800 2.400-2.200 4.400Z" fill="#5b3622"/><path d="M12.200 13.400h1.800M16.400 13.400h1.800" stroke="#6b4a3c" stroke-width=".8" stroke-linecap="round"/><path d="M14 17.600c.8.400 1.800.4 2.600 0" stroke="#c98070" stroke-width=".8" stroke-linecap="round"/></g></svg><div class="c" style="left:814.60px;top:462.70px;width:8.6px;height:8.6px;background:#fff;"></div><div class="c" style="left:816.00px;top:464.10px;width:5.8px;height:5.8px;background:#2eb52e;"></div><span class="t " style="left:835.10px;top:443px;font-size:13px;color:#10131c;transform:scaleX(1.0133);transform-origin:0 50%;-webkit-text-stroke:0.42px #10131c;">Guy Hawkins</span><span class="t " style="left:998.63px;top:445px;font-size:10px;color:#6f6f6f;transform:scaleX(0.9701);transform-origin:100% 50%;">10:15 AM</span><span class="t " style="left:835.10px;top:463px;font-size:10.5px;color:#808080;transform:scaleX(1.1439);transform-origin:0 50%;">Added a file to</span><span class="t " style="left:915.20px;top:463px;font-size:10.5px;color:#5d9de0;transform:scaleX(1.0755);transform-origin:0 50%;">7Heros Project</span><div class="a" style="left:835.1px;top:489.9px;width:206px;height:45.7px;border-radius:9px;background:#e5eef9"></div><div class="c" style="left:846.70px;top:499.50px;width:25.2px;height:25.2px;background:#10141f;"></div><svg style="left:854.3px;top:505.6px" width="10" height="13" viewBox="0 0 10 13" fill="none" ><path d="M2 .8h3v3.600H2a1.800 1.800 0 0 1 0-3.600Z" fill="#f24e1e"/><path d="M5 .8h1.800a1.800 1.800 0 0 1 0 3.600H5Z" fill="#ff7262"/><path d="M2 4.400h3V8H2a1.800 1.800 0 0 1 0-3.600Z" fill="#a259ff"/><circle cx="6.800" cy="6.200" r="1.800" fill="#1abcfe"/><path d="M2 8h3v1.800A1.800 1.800 0 1 1 2 8Z" fill="#0acf83"/></svg><span class="t " style="left:881.80px;top:500px;font-size:11.5px;color:#10131c;transform:scaleX(1.0264);transform-origin:0 50%;-webkit-text-stroke:0.38px #10131c;">Homepage.fig</span><span class="t " style="left:881.80px;top:515px;font-size:10.5px;color:#808080;transform:scaleX(1.0012);transform-origin:0 50%;">13.4 Mb</span><svg style="left:1014.4px;top:504.6px" width="15" height="15" viewBox="0 0 15 15" fill="none" ><circle cx="7.500" cy="7.500" r="6.600" stroke="#3c8ddb" stroke-width="1.200"/><path d="M7.500 4.200v6M5 8l2.500 2.500L10 8" stroke="#3c8ddb" stroke-width="1.200" stroke-linecap="round" stroke-linejoin="round"/></svg><svg style="left:793.5px;top:565.9px" width="30" height="30" viewBox="0 0 30 30" fill="none" ><defs><clipPath id="clkristin"><circle cx="15" cy="15" r="14.7"/></clipPath></defs><g clip-path="url(#clkristin)"><rect width="30" height="30" fill="#dc6c70"/><path d="M6.400 28c-.6-7 .2-14 3.200-19 2.400-4 6.400-5.800 10-4.600 3.600 1.200 5 5 4.600 10-.3 4.200-1.600 8-3.400 11l-2 3.600H7Z" fill="#15100f"/><path d="M9.500 30c.3-2.600 2-4.600 4.500-5.200l5-.3c2.600.6 4 2.600 4.400 5.500Z" fill="#f6ece6"/><path d="M12.500 19h5v6.500c-1.600 1.200-3.400 1.200-5 0Z" fill="#e6b39c"/><ellipse cx="15.200" cy="15" rx="5.200" ry="7" fill="#f2c9b6"/><path d="M9.800 15c-.4-5 1.800-9 5.600-9 3.400 0 5.600 3 5.400 8-1.200-3-2.800-4.800-5-5.400-2.600.6-4.600 2.600-6 6.400Z" fill="#15100f"/><path d="M8.600 20.500c.6-1.800 2.200-2.400 3.400-1.600l1 3.600-.8 4.500-3.200.4c-.8-2.200-.9-4.800-.4-6.900Z" fill="#ecbca6"/><path d="M13.600 18.300c.9-.5 2.200-.5 3.100 0-.7 1-2.400 1-3.100 0Z" fill="#b9363f"/><path d="M12 13.600h2.200M16.400 13.600h2.200" stroke="#3a2420" stroke-width=".7" stroke-linecap="round"/></g></svg><div class="c" style="left:814.60px;top:586.90px;width:8.6px;height:8.6px;background:#fff;"></div><div class="c" style="left:816.00px;top:588.30px;width:5.8px;height:5.8px;background:#f2606c;"></div><span class="t " style="left:835.10px;top:567px;font-size:13px;color:#10131c;transform:scaleX(1.0381);transform-origin:0 50%;-webkit-text-stroke:0.42px #10131c;">Kristin Watson</span><span class="t " style="left:998.63px;top:569px;font-size:10px;color:#6f6f6f;transform:scaleX(0.9701);transform-origin:100% 50%;">10:15 AM</span><span class="t " style="left:835.10px;top:587px;font-size:10.5px;color:#808080;transform:scaleX(1.1588);transform-origin:0 50%;">Commented on</span><span class="t " style="left:921.60px;top:587px;font-size:10.5px;color:#5d9de0;transform:scaleX(1.0655);transform-origin:0 50%;">7Heros Project</span><div class="a" style="left:791.7px;top:646.2px;width:248.5px;height:44.3px;border-radius:9px;background:#f5f5f5"></div><svg style="left:805.6px;top:659.6px" width="17" height="17" viewBox="0 0 17 17" fill="none" ><path d="M14.600 8.200l-5.800 5.800a3.600 3.600 0 0 1-5.100-5.100l6-6a2.400 2.400 0 0 1 3.400 3.400l-5.900 5.900a1.200 1.200 0 0 1-1.700-1.700l5.300-5.300" stroke="#6c6c6c" stroke-width="1.400" stroke-linecap="round" stroke-linejoin="round"/></svg><span class="t " style="left:835.80px;top:662px;font-size:13px;color:#8a8a8a;transform:scaleX(1.0422);transform-origin:0 50%;">Write a message</span><svg style="left:985.3px;top:660.6px" width="16" height="16" viewBox="0 0 16 16" fill="none" ><circle cx="8" cy="8" r="6.800" stroke="#6c6c6c" stroke-width="1.400"/><path d="M5.200 9.600c.6 1 1.600 1.600 2.800 1.600s2.200-.6 2.800-1.600" stroke="#6c6c6c" stroke-width="1.300" stroke-linecap="round"/><circle cx="5.800" cy="6.400" r=".9" fill="#6c6c6c"/><circle cx="10.200" cy="6.400" r=".9" fill="#6c6c6c"/></svg><svg style="left:1014px;top:660px" width="14" height="17" viewBox="0 0 14 17" fill="none" ><rect x="4.200" y="1" width="5.600" height="9.600" rx="2.800" stroke="#6c6c6c" stroke-width="1.400"/><path d="M1.400 8.200a5.600 5.600 0 0 0 11.200 0M7 13.800v2.400M4.600 16.200h4.800" stroke="#6c6c6c" stroke-width="1.400" stroke-linecap="round"/></svg></aside>
</body></html>
